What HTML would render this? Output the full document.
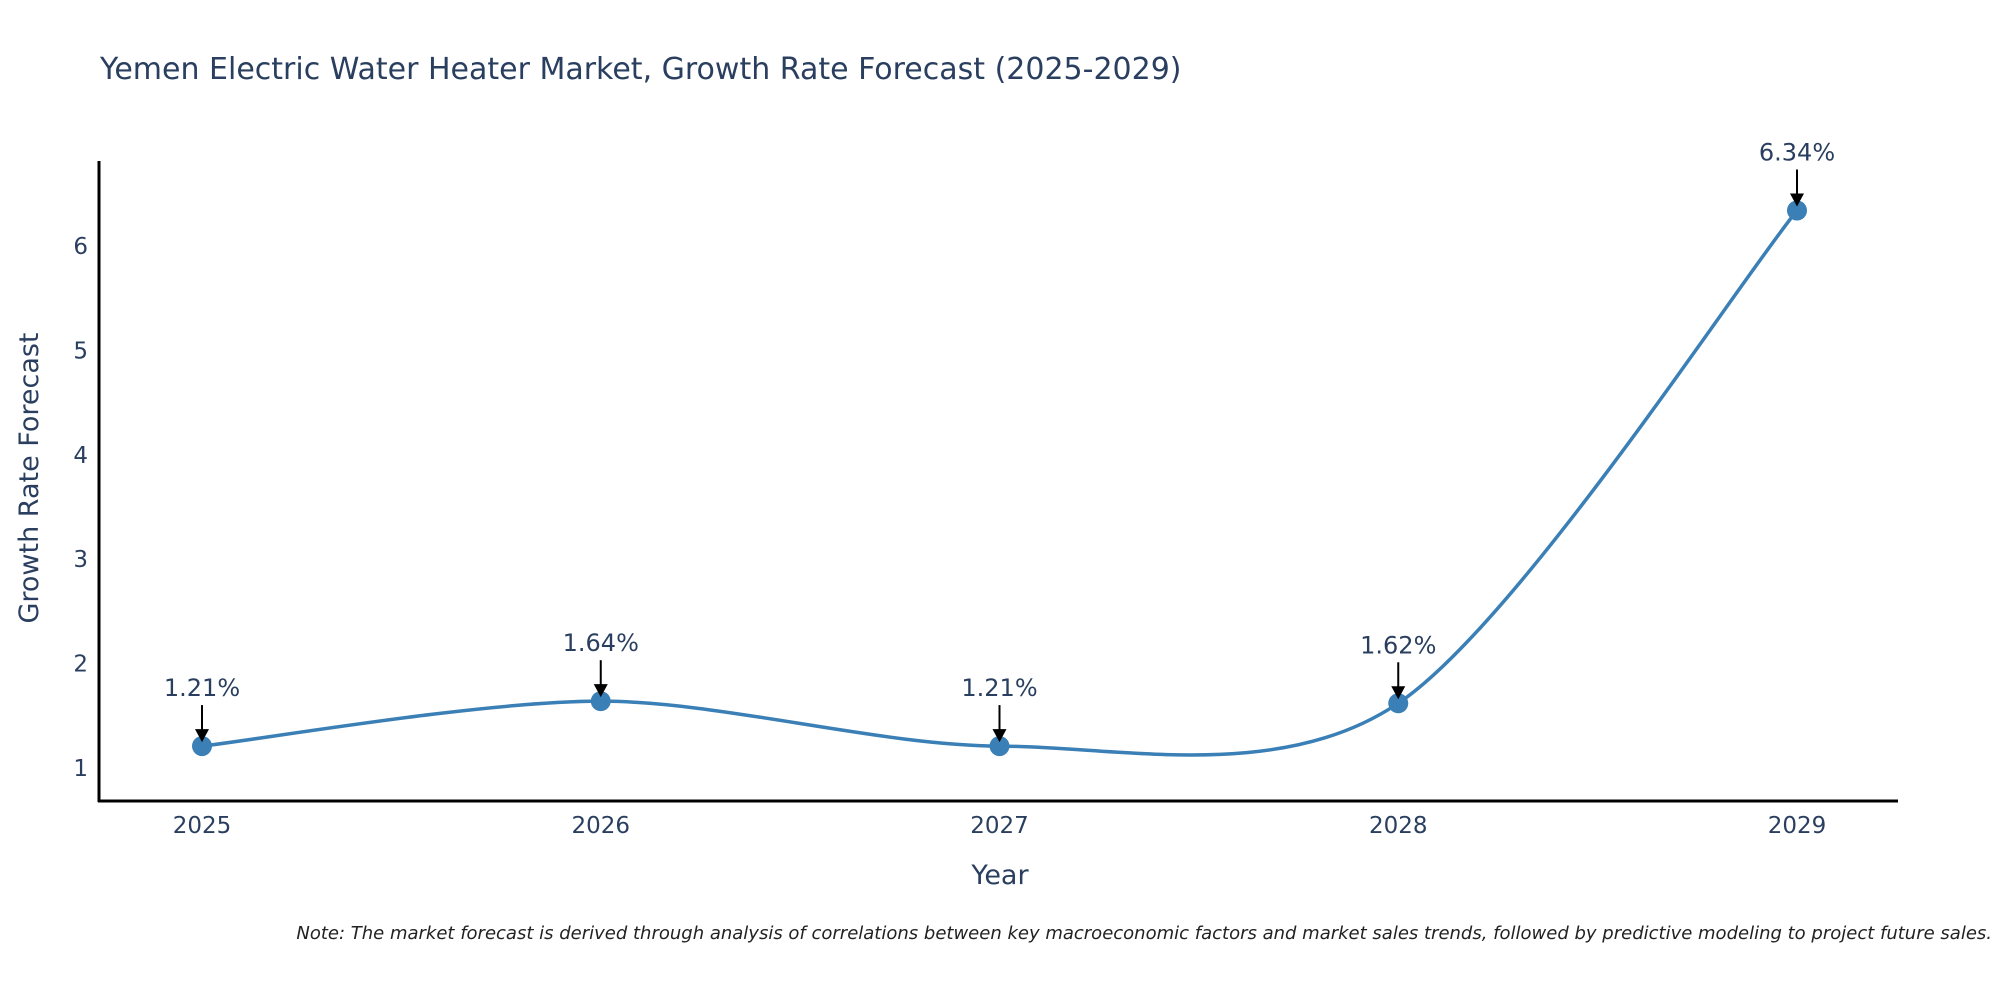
<!DOCTYPE html>
<html><head><meta charset="utf-8"><style>
body{margin:0;background:#fff;}
svg{display:block;font-family:"DejaVu Sans","Liberation Sans",sans-serif;}
</style></head><body>
<svg id="chart" width="2000" height="1000" viewBox="0 0 2000 1000">
<text x="100" y="79" font-size="30" fill="#2a3f5f">Yemen Electric Water Heater Market, Growth Rate Forecast (2025-2029)</text>
<g id="yticks"></g><g id="xticks"></g>
<line x1="99" y1="161" x2="99" y2="802" stroke="#000" stroke-width="3"/>
<line x1="98" y1="801" x2="1898" y2="801" stroke="#000" stroke-width="3"/>
<text transform="translate(38,478) rotate(-90)" text-anchor="middle" font-size="27" fill="#2a3f5f">Growth Rate Forecast</text>
<text x="1000" y="884" text-anchor="middle" font-size="27" fill="#2a3f5f">Year</text>
<path id="line" fill="none" stroke="#3a7fb5" stroke-width="3.5"/>
<g id="marks"></g>
<text x="1992" y="939" text-anchor="end" font-size="18" font-style="italic" fill="#222">Note: The market forecast is derived through analysis of correlations between key macroeconomic factors and market sales trends, followed by predictive modeling to project future sales.</text>
</svg>
<script>
const years=[2025,2026,2027,2028,2029];
const values=[1.21,1.64,1.21,1.62,6.34];
const labels=["1.21%","1.64%","1.21%","1.62%","6.34%"];
const yTicks=[1,2,3,4,5,6];
const NS="http://www.w3.org/2000/svg";
const xS=v=>202+(v-2025)*398.75;
const yS=v=>768-(v-1)*104.4;
function mk(t,a,p){const e=document.createElementNS(NS,t);for(const k in a)e.setAttribute(k,a[k]);p.appendChild(e);return e;}
const yt=document.getElementById('yticks');
yTicks.forEach(v=>{const t=mk('text',{x:88,y:yS(v)+8,'text-anchor':'end','font-size':23,fill:'#2a3f5f'},yt);


t.textContent=v;});
const xt=document.getElementById('xticks');
years.forEach(v=>{const t=mk('text',{x:xS(v),y:833,'text-anchor':'middle','font-size':23,fill:'#2a3f5f'},xt);


t.textContent=v;});
const P=years.map((y,i)=>[xS(y),yS(values[i])]);
let d='M'+P[0][0]+','+P[0][1];
const k=0.15;
for(let i=0;i<P.length-1;i++){
const p0=P[Math.max(i-1,0)],p1=P[i],p2=P[i+1],p3=P[Math.min(i+2,P.length-1)];
const c1=[p1[0]+(p2[0]-p0[0])*k,p1[1]+(p2[1]-p0[1])*k];
const c2=[p2[0]-(p3[0]-p1[0])*k,p2[1]-(p3[1]-p1[1])*k];
d+=' C'+c1+' '+c2+' '+p2;}
document.getElementById('line').setAttribute('d',d);
const m=document.getElementById('marks');
P.forEach((p,i)=>{
const c=mk('circle',{cx:p[0],cy:p[1],r:10,fill:'#3a7fb5'},m);


const l=mk('line',{x1:p[0],y1:p[1]-41,x2:p[0],y2:p[1]-14,stroke:'#000','stroke-width':2},m);


const h=mk('polygon',{points:`${p[0]-7},${p[1]-17} ${p[0]+7},${p[1]-17} ${p[0]},${p[1]-4}`,fill:'#000'},m);


const t=mk('text',{x:p[0],y:p[1]-50,'text-anchor':'middle','font-size':24,fill:'#2a3f5f'},m);


t.textContent=labels[i];});
</script>
</body></html>
